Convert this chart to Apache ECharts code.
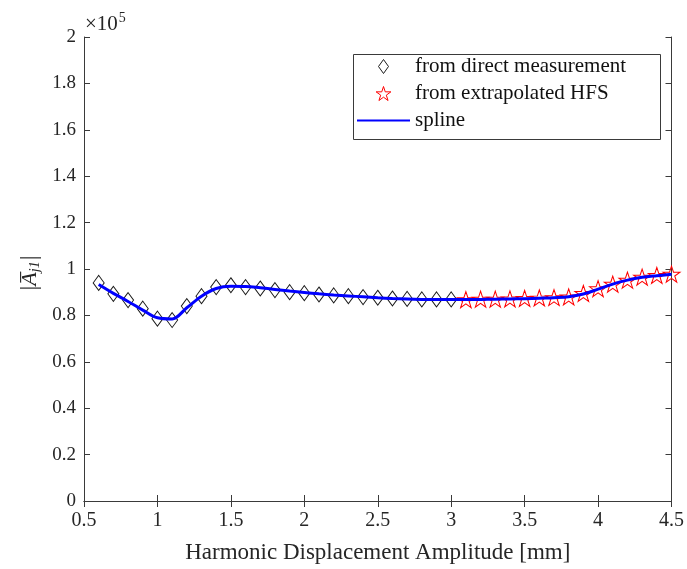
<!DOCTYPE html>
<html>
<head>
<meta charset="utf-8">
<script src="https://cdn.jsdelivr.net/npm/echarts@6/dist/echarts.min.js"></script>
<style>
html,body{margin:0;padding:0;background:#fff;}
#chart{width:687px;height:569px;}
</style>
</head>
<body>
<div id="chart"></div>
<script>
// ---- data ----
const xDirect = [0.6,0.7,0.8,0.9,1.0,1.1,1.2,1.3,1.4,1.5,1.6,1.7,1.8,1.9,2.0,2.1,2.2,2.3,2.4,2.5,2.6,2.7,2.8,2.9,3.0];
const yDirect = [94000,89300,86600,82900,78600,78000,84000,88300,92200,93000,92200,91600,90900,90000,89600,89000,88600,88300,87900,87600,87300,87100,86900,86900,86900];
const xHFS = [3.1,3.2,3.3,3.4,3.5,3.6,3.7,3.8,3.9,4.0,4.1,4.2,4.3,4.4,4.5];
const yHFS = [86800,87000,87000,87100,87300,87500,87700,88000,89500,91500,93500,95200,96500,97200,97800];
const xSpline = [0.6,0.7,0.8,0.9,1.0,1.1,1.2,1.3,1.4,1.5,1.6,1.7,1.8,1.9,2.0,2.1,2.2,2.3,2.4,2.5,2.6,2.7,2.8,2.9,3.0,3.1,3.2,3.3,3.4,3.5,3.6,3.7,3.8,3.9,4.0,4.1,4.2,4.3,4.4,4.5];
const ySpline = [93300,89500,86000,82300,79000,78500,83300,88300,91600,92600,92500,91900,91200,90500,89900,89300,88800,88400,88000,87600,87300,87100,86900,86800,86800,86800,86900,87000,87100,87200,87400,87600,88000,89200,91300,93500,95200,96400,97100,97700];
const xTicks = [0.5,1,1.5,2,2.5,3,3.5,4,4.5];
const yTicks = ['0','0.2','0.4','0.6','0.8','1','1.2','1.4','1.6','1.8','2'];
const seriesNames = ['from direct measurement','from extrapolated HFS','spline'];

const serif = '"Liberation Serif", "Times New Roman", serif';
const axisCol = '#3a3a3a';
const starPath = 'path://M50 0 L61.23 34.55 L97.55 34.55 L68.17 55.9 L79.39 90.45 L50 69.1 L20.61 90.45 L31.83 55.9 L2.45 34.55 L38.77 34.55 Z';
const diamondPath = 'path://M5 0 L10 7 L5 14 L0 7 Z';
const linePath = 'path://M0 0 H106 V4 H0 Z';

const zip = (xs, ys) => xs.map((x, i) => [x, ys[i]]);

const chart = echarts.init(document.getElementById('chart'), null, {renderer: 'canvas'});

const baseAxis = {
  axisLine: {show: true, lineStyle: {color: axisCol, width: 1}},
  axisTick: {show: true, inside: true, length: 6, lineStyle: {color: axisCol, width: 1}},
  splitLine: {show: false}
};

const option = {
  animation: false,
  backgroundColor: '#fff',
  grid: {left: 84, right: 14, top: 37, bottom: 64, containLabel: false},
  xAxis: [
    Object.assign({}, baseAxis, {
      type: 'value', min: xTicks[0], max: xTicks[xTicks.length - 1], interval: 0.5,
      position: 'bottom',
      axisLabel: {color: '#262626', fontFamily: serif, fontSize: 20, margin: 10,
        formatter: v => String(v)},
      name: 'Harmonic Displacement Amplitude [mm]',
      nameLocation: 'middle', nameGap: 40,
      nameTextStyle: {color: '#262626', fontFamily: serif, fontSize: 23}
    }),
    Object.assign({}, baseAxis, {
      type: 'value', min: xTicks[0], max: xTicks[xTicks.length - 1], interval: 0.5,
      position: 'top', axisLabel: {show: false}
    })
  ],
  yAxis: [
    Object.assign({}, baseAxis, {
      type: 'value', min: 0, max: 200000, interval: 20000, position: 'left',
      axisLabel: {color: '#262626', fontFamily: serif, fontSize: 19, margin: 8,
        formatter: v => yTicks[Math.round(v / 20000)]}
    }),
    Object.assign({}, baseAxis, {
      type: 'value', min: 0, max: 200000, interval: 20000, position: 'right',
      axisLabel: {show: false}
    })
  ],
  legend: {
    left: 357, top: 56, orient: 'vertical',
    itemWidth: 53, itemHeight: 14, itemGap: 6,
    padding: 0, symbolKeepAspect: true,
    textStyle: {color: '#111', fontFamily: serif, fontSize: 21},
    data: [
      {name: seriesNames[0], icon: diamondPath,
        itemStyle: {color: 'rgba(255,255,255,0)', borderColor: '#1a1a1a', borderWidth: 1}},
      {name: seriesNames[1], icon: starPath,
        itemStyle: {color: 'rgba(255,255,255,0)', borderColor: '#ff0000', borderWidth: 1}},
      {name: seriesNames[2], icon: linePath,
        itemStyle: {color: '#0000ff', borderWidth: 0}}
    ]
  },
  graphic: [
    {type: 'rect', left: 351, top: 52, z: 100, silent: true,
      shape: {width: 307, height: 85},
      style: {fill: 'none', stroke: axisCol, lineWidth: 1}},
    {type: 'text', left: 85, top: 11, z: 100,
      style: {
        text: '{a|\u00D710}{b|5}',
        rich: {
          a: {fontFamily: serif, fontSize: 21, fill: '#262626', verticalAlign: 'bottom', lineHeight: 24},
          b: {fontFamily: serif, fontSize: 14, fill: '#262626', verticalAlign: 'top', lineHeight: 24, padding: [0,0,10,1]}
        }
      }},
    {type: 'text', x: 30, y: 273, rotation: Math.PI / 2, z: 100,
      style: {
        text: '{p||}{a|A\u0305}{s|j1}{p||}',
        align: 'center', verticalAlign: 'middle',
        rich: {
          p: {fontFamily: serif, fontSize: 24, fill: '#262626'},
          a: {fontFamily: serif, fontSize: 22, fontStyle: 'italic', fill: '#262626'},
          s: {fontFamily: serif, fontSize: 14, fontStyle: 'italic', fill: '#262626', padding: [10,1,0,0]}
        }
      }}
  ],
  series: [
    {
      name: seriesNames[0], type: 'scatter', xAxisIndex: 0, yAxisIndex: 0,
      data: zip(xDirect, yDirect),
      symbol: 'diamond', symbolSize: [11, 15], z: 2,
      itemStyle: {color: 'rgba(255,255,255,0)', borderColor: '#1a1a1a', borderWidth: 1, opacity: 1}
    },
    {
      name: seriesNames[1], type: 'scatter', xAxisIndex: 0, yAxisIndex: 0,
      data: zip(xHFS, yHFS),
      symbol: starPath, symbolSize: [17, 16], z: 2,
      itemStyle: {color: 'rgba(255,255,255,0)', borderColor: '#ff0000', borderWidth: 1, opacity: 1}
    },
    {
      name: seriesNames[2], type: 'line', xAxisIndex: 0, yAxisIndex: 0,
      data: zip(xSpline, ySpline),
      smooth: 0.35, symbol: 'none', z: 5,
      lineStyle: {color: '#0000ff', width: 3},
      itemStyle: {color: '#0000ff'}
    }
  ]
};
chart.setOption(option);
</script>
</body>
</html>
